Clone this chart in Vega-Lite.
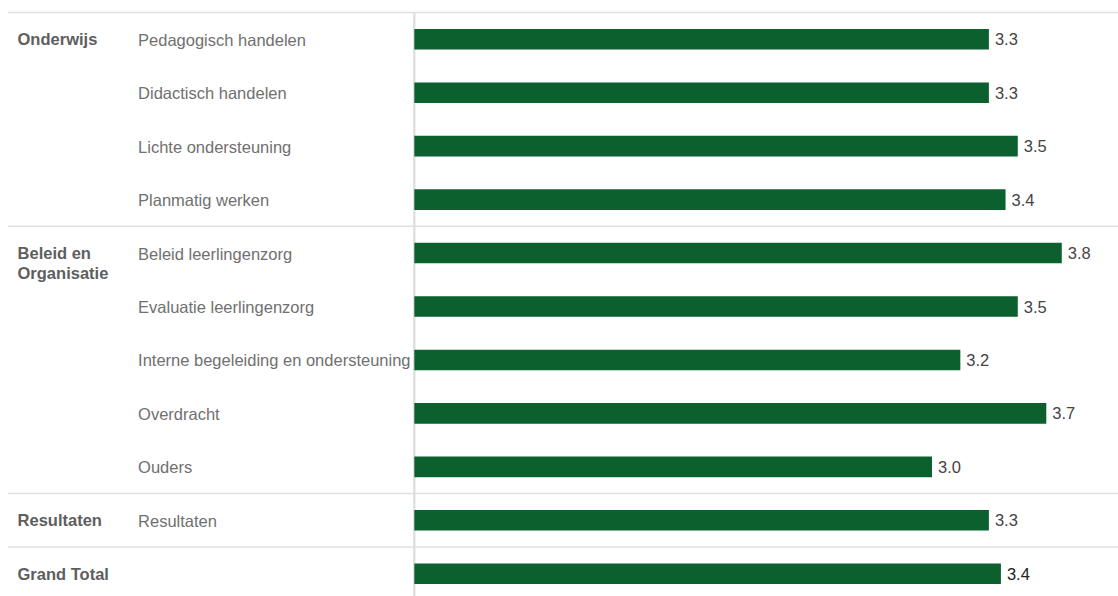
{
  "$schema": "https://vega.github.io/schema/vega-lite/v6.json",
  "width": 1118,
  "height": 583.5,
  "autosize": {"type": "none"},
  "padding": {"top": 12.5, "left": 0, "right": 0, "bottom": 0},
  "background": "white",
  "config": {"view": {"stroke": null}, "font": "Liberation Sans"},
  "data": {
    "values": [
      {"item": "Pedagogisch handelen", "group": "Onderwijs", "first": true, "value": 3.342},
      {"item": "Didactisch handelen", "group": "Onderwijs", "first": false, "value": 3.342},
      {"item": "Lichte ondersteuning", "group": "Onderwijs", "first": false, "value": 3.51},
      {"item": "Planmatig werken", "group": "Onderwijs", "first": false, "value": 3.439},
      {"item": "Beleid leerlingenzorg", "group": "Beleid en\nOrganisatie", "first": true, "value": 3.766},
      {"item": "Evaluatie leerlingenzorg", "group": "Beleid en\nOrganisatie", "first": false, "value": 3.51},
      {"item": "Interne begeleiding en ondersteuning", "group": "Beleid en\nOrganisatie", "first": false, "value": 3.176},
      {"item": "Overdracht", "group": "Beleid en\nOrganisatie", "first": false, "value": 3.676},
      {"item": "Ouders", "group": "Beleid en\nOrganisatie", "first": false, "value": 3.011},
      {"item": "Resultaten", "group": "Resultaten", "first": true, "value": 3.342},
      {"item": "Grand Total", "group": "Grand Total", "first": true, "value": 3.412}
    ]
  },
  "encoding": {
    "y": {"field": "item", "type": "nominal", "sort": null, "axis": null,
          "scale": {"paddingInner": 0, "paddingOuter": 0, "range": [0, 588],
                    "domain": ["Pedagogisch handelen", "Didactisch handelen", "Lichte ondersteuning", "Planmatig werken", "Beleid leerlingenzorg", "Evaluatie leerlingenzorg", "Interne begeleiding en ondersteuning", "Overdracht", "Ouders", "Resultaten", "Grand Total"]}}
  },
  "layer": [
    {
      "transform": [{"filter": "datum.first"}],
      "mark": {"type": "rule", "color": "#e0e0e0", "strokeWidth": 1.5},
      "encoding": {
        "y": {"field": "item", "type": "nominal", "sort": null, "bandPosition": 0},
        "x": {"datum": -2.363, "type": "quantitative", "scale": {"domain": [-2.41, 4.093], "nice": false, "zero": false}, "axis": null},
        "x2": {"datum": 4.093}
      }
    },
    {
      "mark": {"type": "rule", "color": "#e0e0e0", "strokeWidth": 1.5},
      "encoding": {
        "y": null,
        "x": {"datum": 0, "type": "quantitative"}
      }
    },
    {
      "mark": {"type": "bar", "color": "#0b602e", "height": {"band": 0.385}},
      "encoding": {
        "x": {"field": "value", "type": "quantitative"}
      }
    },
    {
      "mark": {"type": "text", "align": "left", "baseline": "middle", "dx": 6, "dy": 1, "fontSize": 16.5},
      "encoding": {
        "x": {"field": "value", "type": "quantitative"},
        "text": {"field": "value", "type": "quantitative", "format": ".1f"},
        "fontWeight": {"condition": {"test": "datum.item === 'Grand Total'", "value": "bold"}, "value": "normal"},
        "color": {"condition": {"test": "datum.item === 'Grand Total'", "value": "#222222"}, "value": "#444444"}
      }
    },
    {
      "transform": [{"filter": "datum.item !== 'Grand Total'"}],
      "mark": {"type": "text", "align": "left", "baseline": "middle", "dy": 1.5, "fontSize": 16.5, "color": "#707070"},
      "encoding": {
        "x": {"datum": -1.607, "type": "quantitative"},
        "text": {"field": "item", "type": "nominal"}
      }
    },
    {
      "transform": [{"filter": "datum.first"}],
      "mark": {"type": "text", "align": "left", "baseline": "line-top", "lineBreak": "\n", "lineHeight": 19.5, "dy": -9, "fontSize": 16.5, "fontWeight": "bold", "color": "#5e5e5e"},
      "encoding": {
        "x": {"datum": -2.308, "type": "quantitative"},
        "text": {"field": "group", "type": "nominal"}
      }
    }
  ]
}
